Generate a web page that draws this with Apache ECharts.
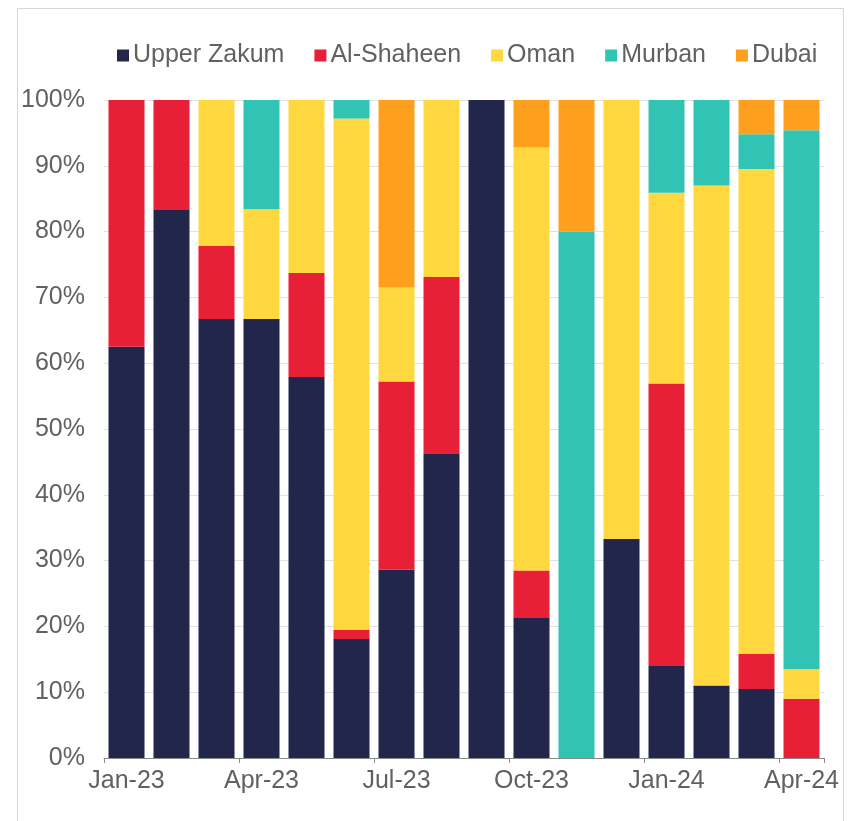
<!DOCTYPE html>
<html>
<head>
    <meta charset="utf-8">
    <title>Crude grades share</title>
    <script src="https://cdn.jsdelivr.net/npm/echarts@6/dist/echarts.min.js"></script>
    <style>
        body { margin: 0; background: #fff; }
    </style>
</head>
<body>
    <div id="main" style="width:850px;height:821px;"></div>
    <script type="text/javascript">
        // months (x axis)
        var months = ['Jan-23', 'Feb-23', 'Mar-23', 'Apr-23', 'May-23', 'Jun-23', 'Jul-23', 'Aug-23',
                      'Sep-23', 'Oct-23', 'Nov-23', 'Dec-23', 'Jan-24', 'Feb-24', 'Mar-24', 'Apr-24'];

        // share of each grade, in %
        var upperZakum = [62.5, 83.3, 66.7, 66.7, 57.9, 18.1, 28.6, 46.2, 100, 21.4, 0, 33.3, 14.0, 11.0, 10.5, 0];
        var alShaheen  = [37.5, 16.7, 11.1, 0, 15.8, 1.4, 28.6, 26.9, 0, 7.1, 0, 0, 42.9, 0, 5.3, 9.0];
        var oman       = [0, 0, 22.2, 16.7, 26.3, 77.7, 14.3, 26.9, 0, 64.3, 0, 66.7, 29.0, 76.0, 73.7, 4.5];
        var murban     = [0, 0, 0, 16.6, 0, 2.8, 0, 0, 0, 0, 80, 0, 14.1, 13.0, 5.3, 81.9];
        var dubai      = [0, 0, 0, 0, 0, 0, 28.5, 0, 0, 7.2, 20, 0, 0, 0, 5.2, 4.6];

        var yTicks = [0, 10, 20, 30, 40, 50, 60, 70, 80, 90, 100];

        var font = 'Liberation Sans, Arial, sans-serif';
        var txtColor = '#616161';

        var myChart = echarts.init(document.getElementById('main'));

        function bar(name, data, color) {
            return {
                name: name,
                type: 'bar',
                stack: 'total',
                barCategoryGap: '20%',
                data: data,
                itemStyle: { color: color },
                emphasis: { disabled: true }
            };
        }

        var option = {
            animation: false,
            textStyle: { fontFamily: font },
            graphic: [{
                type: 'rect',
                shape: { x: 17.5, y: 8.5, width: 826, height: 840 },
                style: { fill: 'none', stroke: '#d6d6d6', lineWidth: 1 },
                silent: true
            }],
            legend: {
                left: 117,
                top: 43,
                padding: 0,
                itemWidth: 12,
                itemHeight: 12,
                itemGap: 30,
                icon: 'rect',
                textStyle: { fontSize: 25, color: txtColor, fontFamily: font, padding: [0, 0, 0, -1] },
                data: ['Upper Zakum', 'Al-Shaheen', 'Oman', 'Murban', 'Dubai']
            },
            grid: { left: 104, right: 26, top: 100, bottom: 63 },
            xAxis: {
                type: 'category',
                data: months,
                axisLine: { lineStyle: { color: '#8a8a8a', width: 1 } },
                axisTick: { show: true, interval: 2, length: 5, lineStyle: { color: '#8a8a8a' } },
                axisLabel: { interval: 2, fontSize: 25, color: txtColor, margin: 11 }
            },
            yAxis: {
                type: 'value',
                min: 0,
                max: 100,
                interval: 10,
                axisLine: { show: false },
                axisTick: { show: false },
                splitLine: { lineStyle: { color: '#e2e2e2', width: 1 } },
                axisLabel: {
                    fontSize: 25, color: txtColor, margin: 19,
                    formatter: function (v) { return yTicks.indexOf(v) >= 0 ? v + '%' : ''; }
                }
            },
            series: [
                bar('Upper Zakum', upperZakum, '#21264a'),
                bar('Al-Shaheen', alShaheen, '#e71f37'),
                bar('Oman', oman, '#fed83e'),
                bar('Murban', murban, '#31c4b5'),
                bar('Dubai', dubai, '#fe9f1e')
            ]
        };

        myChart.setOption(option);
    </script>
</body>
</html>
